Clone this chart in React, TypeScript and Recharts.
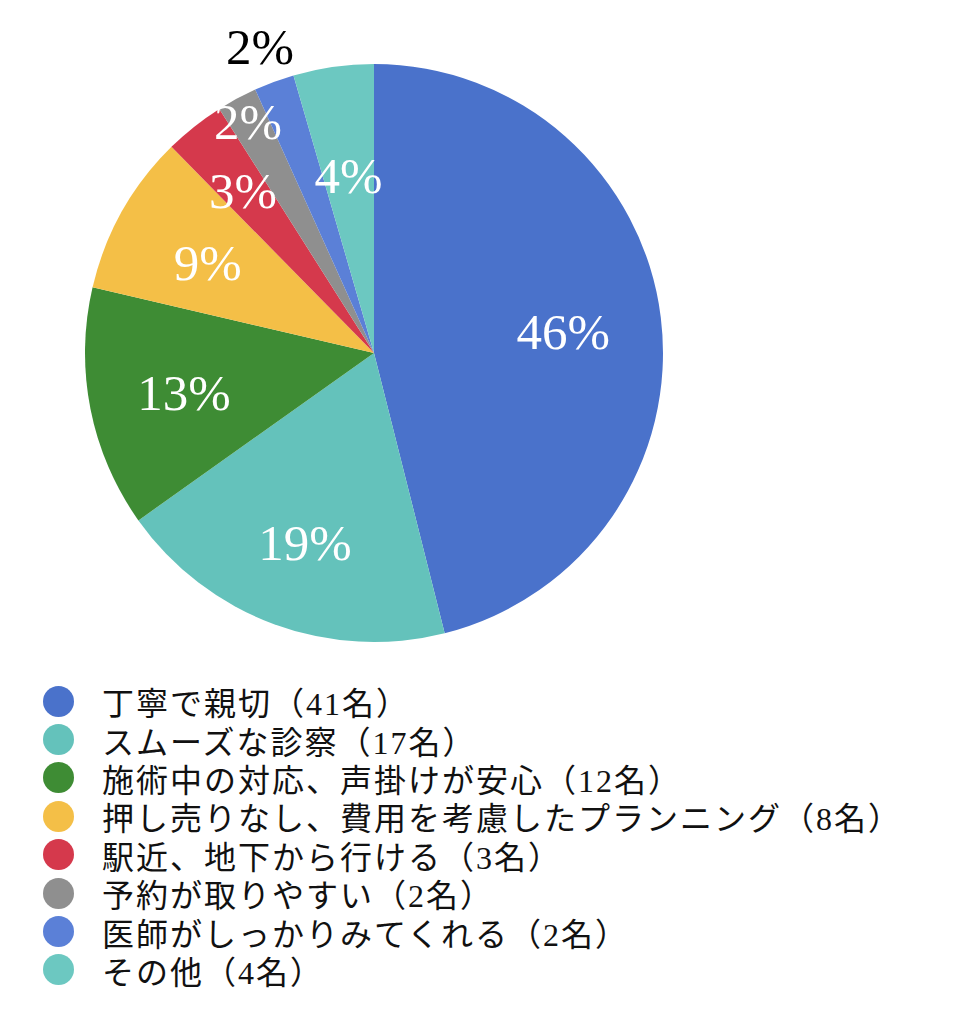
import React from "react";
import { PieChart, Pie, Cell, Legend } from "recharts";

const categories = [
  "丁寧で親切",
  "スムーズな診察",
  "施術中の対応、声掛けが安心",
  "押し売りなし、費用を考慮したプランニング",
  "駅近、地下から行ける",
  "予約が取りやすい",
  "医師がしっかりみてくれる",
  "その他",
];
const counts = [41, 17, 12, 8, 3, 2, 2, 4];
const colors = [
  "#4A72CB",
  "#64C2BB",
  "#3E8C34",
  "#F4BF47",
  "#D5394C",
  "#8F8F8F",
  "#5B80D7",
  "#6CC8C1",
];

// label distance from centre, as a share of the radius (small slices are pushed out)
const labelRadius = [0.66, 0.69, 0.67, 0.66, 0.73, 0.92, 1.14, 0.63];
const labelColor = ["#fff", "#fff", "#fff", "#fff", "#fff", "#fff", "#000", "#fff"];

const total = counts.reduce((a, b) => a + b, 0);
const data = categories.map((name, i) => ({ name, value: counts[i] }));

const RADIAN = Math.PI / 180;
const SERIF = "'Liberation Serif', 'Noto Sans CJK JP', serif";

const renderLabel = (props: any) => {
  const { cx, cy, midAngle, outerRadius, index, value } = props;
  const r = outerRadius * labelRadius[index];
  const x = cx + r * Math.cos(-midAngle * RADIAN);
  const y = cy + r * Math.sin(-midAngle * RADIAN) + 3;
  return (
    <text
      x={x}
      y={y}
      fill={labelColor[index]}
      textAnchor="middle"
      dominantBaseline="central"
      fontFamily={SERIF}
      fontSize={51}
    >
      {Math.round((value / total) * 100)}%
    </text>
  );
};

const renderLegend = () => (
  <div
    style={{ fontFamily: SERIF, fontSize: 32, letterSpacing: 2, color: "#111" }}
  >
    {data.map((d, i) => (
      <div
        key={i}
        style={{ display: "flex", alignItems: "center", height: 38.4 }}
      >
        <span
          style={{
            width: 31,
            height: 31,
            borderRadius: "50%",
            backgroundColor: colors[i],
            marginLeft: 35,
            marginRight: 28,
            flexShrink: 0,
          }}
        />
        <span style={{ whiteSpace: "nowrap" }}>
          {d.name}（{d.value}名）
        </span>
      </div>
    ))}
  </div>
);

export default function App() {
  return (
    <PieChart width={948} height={1000}>
      <Pie
        data={data}
        dataKey="value"
        nameKey="name"
        cx={361}
        cy={340}
        outerRadius={289}
        startAngle={90}
        endAngle={-270}
        stroke="none"
        label={renderLabel}
        labelLine={false}
        isAnimationActive={false}
      >
        {data.map((_, i) => (
          <Cell key={`cell-${i}`} fill={colors[i]} />
        ))}
      </Pie>
      <Legend
        content={renderLegend}
        wrapperStyle={{ position: "absolute", top: 674, left: 0, width: 948 }}
      />
    </PieChart>
  );
}
